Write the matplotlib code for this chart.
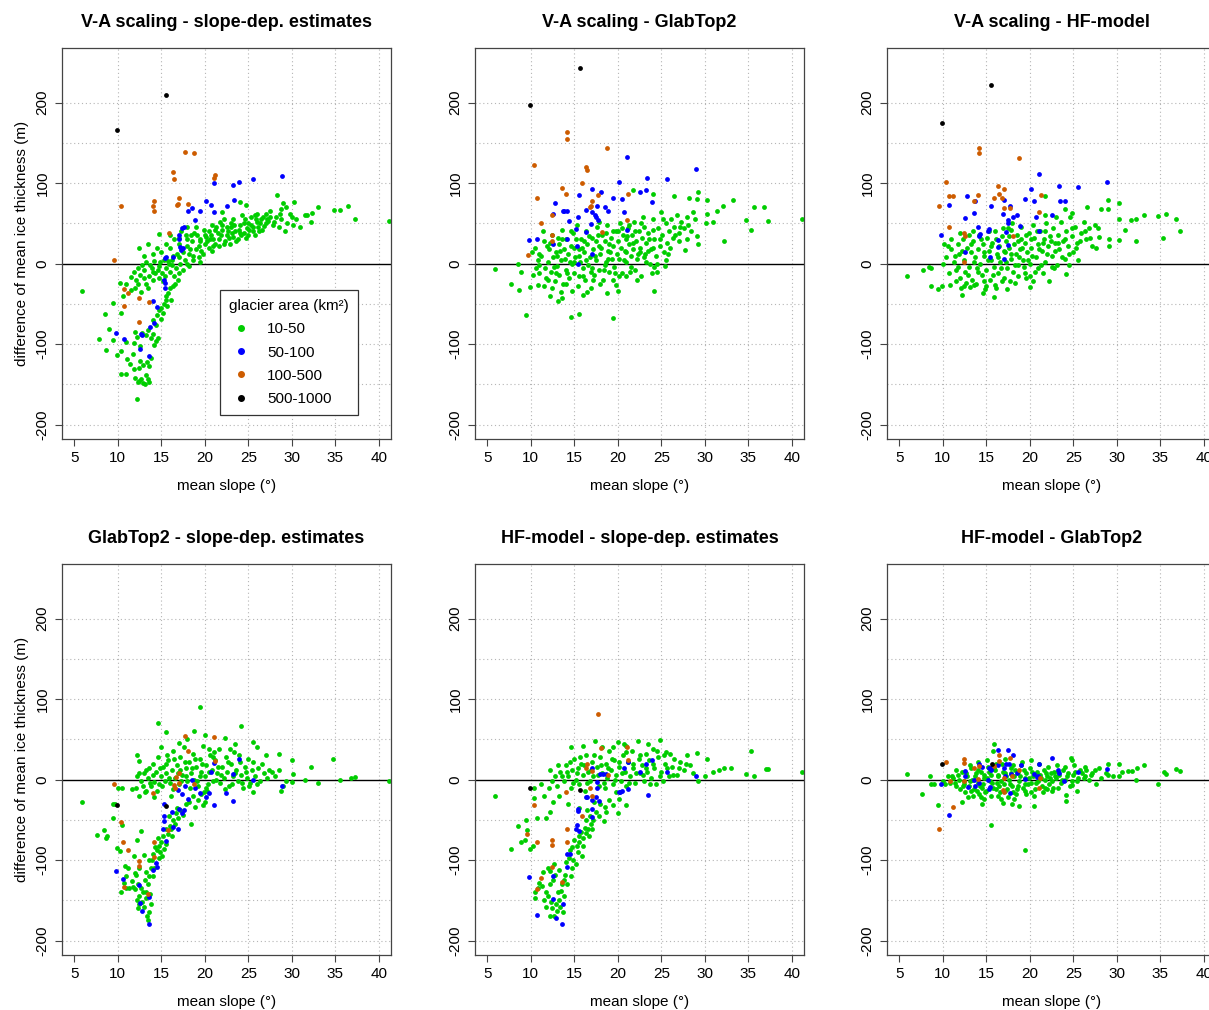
import numpy as np
import matplotlib
matplotlib.use('Agg')
import matplotlib.pyplot as plt
from matplotlib.lines import Line2D

plt.rcParams['font.family'] = ['Liberation Sans', 'DejaVu Sans']
plt.rcParams['axes.unicode_minus'] = False

# area classes and colours
classes = ['10-50', '50-100', '100-500', '500-1000']
class_colors = ['#00CD00', '#0000FF', '#CD5C00', '#000000']

titles = ['V-A scaling - slope-dep. estimates', 'V-A scaling - GlabTop2', 'V-A scaling - HF-model',
          'GlabTop2 - slope-dep. estimates', 'HF-model - slope-dep. estimates', 'HF-model - GlabTop2']

# ---- panel 1: V-A scaling - slope-dep. estimates  (mean slope, difference)
p1_green = [
    (5.9, -34), (7.8, -94), (8.5, -63), (8.6, -107), (9.0, -81), (9.5, -49), (9.5, -95), (9.9, -113), (10.3, -24),
    (10.4, -61), (10.4, -108), (10.4, -137), (10.6, -40), (10.9, -97), (11.0, -137),
    (11.1, -118), (11.4, -125), (11.7, -112), (11.9, -131), (12.0, -142), (12.2, -168), (12.3, -147), (12.5, -146),
    (12.7, -143), (12.9, -148), (13.1, -150), (13.3, -138), (13.5, -143), (13.6, -147), (12.6, -121), (12.4, -130),
    (12.9, -126), (13.4, -122), (13.6, -127), (13.8, -117), (12.0, -85), (12.2, -91), (11.9, -99), (12.6, -102),
    (12.8, -86), (13.3, -89), (13.5, -82), (13.8, -93), (14.0, -88), (14.2, -101), (14.4, -96), (14.6, -92),
    (14.1, -70), (14.4, -76), (14.5, -64), (14.8, -58), (15.0, -55), (15.0, -69), (15.2, -62), (15.3, -50),
    (15.5, -45), (15.6, -40), (15.8, -36), (16.0, -30), (16.1, -45), (16.3, -28), (15.7, -53),
    (11.0, -25), (11.5, -17), (11.9, -10), (12.1, -20), (12.3, -5), (12.6, -14), (12.8, -2), (13.0, -8), (13.2, -25),
    (13.6, -15), (13.9, -5), (13.3, 2), (13.7, -2), (14.2, 3), (14.6, -8), (14.9, 2), (15.3, 5), (12.0, -30),
    (12.7, -35), (13.5, -30), (14.1, -20), (14.7, -18), (15.1, -12), (15.6, -5), (16.0, -10), (16.5, -15),
    (16.9, -20), (17.5, -8), (17.2, 0), (18.2, -3), (18.7, 5), (19.3, 8), (16.6, -25),
    (13.0, 10), (14.0, 12), (14.5, 20), (15.0, 15), (15.5, 25), (16.0, 20), (16.5, 30), (17.0, 25), (17.5, 15),
    (18.0, 22), (18.5, 28), (19.0, 18), (19.5, 30), (20.0, 25), (16.4, 10), (17.8, 35), (18.2, 12), (19.8, 12),
    (20.5, 20), (13.5, 25), (12.5, 20), (14.7, 37), (15.8, 3), (16.8, 12), (17.3, 40), (18.8, 38), (19.3, 22),
    (20.2, 33), (20.0, 35), (20.5, 40), (21.0, 30), (21.5, 38), (22.0, 42), (22.5, 35), (23.0, 45), (23.5, 40),
    (24.0, 48), (24.5, 38), (25.0, 50), (25.5, 45), (26.0, 52), (26.5, 55), (27.0, 50), (27.5, 58), (21.2, 25),
    (22.3, 28), (23.8, 30), (24.7, 32), (25.8, 36), (20.8, 48), (21.8, 52), (23.2, 55), (24.3, 60), (25.3, 58),
    (26.2, 40), (21.3, 45), (22.7, 40), (24.0, 38), (23.3, 33), (25.1, 42), (26.8, 47), (27.3, 53), (28.5, 45),
    (29.2, 40), (28.0, 52), (30.0, 58), (30.1, 48), (31.5, 60), (32.3, 63), (33.0, 70), (34.8, 67), (35.5, 67),
    (36.5, 72), (37.3, 55), (32.2, 52), (29.0, 75), (28.3, 85), (28.8, 68), (29.3, 70), (27.0, 62), (31.0, 45),
    (19.0, 45), (18.0, 45), (22.2, 55), (25.8, 60), (26.7, 58), (41.2, 53), (24.0, 76), (24.7, 73), (22.0, 64),
    (30.2, 76), (31.8, 60), (29.8, 62),
    (14.3, -12), (14.8, -3), (15.2, -22), (15.9, 0), (16.2, 5), (16.7, -6), (17.0, 8), (17.4, 18), (17.7, 4),
    (18.0, 30), (18.3, 18), (18.6, 10), (19.1, 35), (19.6, 16), (19.9, 42), (20.3, 28), (20.7, 36), (21.0, 22),
    (21.2, 42), (21.6, 30), (21.9, 36), (22.2, 25), (22.5, 45), (22.8, 32), (23.1, 38), (23.4, 48), (23.6, 28),
    (23.9, 42), (24.2, 35), (24.5, 50), (24.8, 44), (25.0, 36), (25.3, 48), (25.6, 40), (25.9, 55), (26.1, 46),
    (26.4, 50), (26.6, 42), (27.1, 56), (27.8, 48), (28.2, 58), (28.8, 55), (29.5, 50), (30.5, 55), (20.8, 16),
    (21.6, 22), (22.9, 25), (19.5, 2), (18.0, 0), (17.0, -12), (16.2, -2), (15.4, -15), (14.0, -10), (13.0, -18),
    (12.3, -25), (11.5, -33), (16.0, 35), (17.0, 32), (18.4, 36), (19.4, 28), (20.6, 30), (22.0, 48), (23.0, 50),
    (24.6, 55), (26.0, 62), (27.5, 65), (28.6, 62),
]
p1_blue = [
    (28.9, 109), (25.6, 105), (23.9, 102), (23.3, 98), (21.1, 100), (20.2, 78), (20.7, 73), (21.1, 64), (22.5, 72),
    (23.4, 79), (18.5, 69), (18.1, 65), (19.5, 65), (18.9, 54), (17.6, 46), (17.4, 44), (17.0, 36), (17.0, 30),
    (17.1, 21), (17.5, 20), (17.3, 17), (15.5, 8), (15.4, 7), (16.4, 8), (15.3, -20), (15.4, -24), (15.4, -30),
    (14.5, -54), (14.1, -47), (14.2, -74), (13.7, -79), (12.7, -87), (12.8, -89), (9.8, -86), (10.7, -94),
    (12.6, -106), (13.6, -115),
]
p1_orange = [
    (17.7, 139), (18.8, 137), (16.4, 114), (16.5, 105), (21.2, 110), (21.1, 107), (10.4, 71), (14.2, 78), (14.1, 71),
    (14.2, 66), (17.0, 81), (16.8, 73), (16.9, 74), (18.1, 74), (15.9, 38), (9.6, 5), (10.7, -32), (11.2, -37),
    (10.7, -53), (12.4, -43), (13.6, -48), (12.5, -73),
]
p1_black = [(9.9, 166), (15.6, 210)]

# ---- panel 2: V-A scaling - GlabTop2
p2_green = [
    (5.9, -7), (7.7, -25), (8.5, 0), (8.7, -33), (8.9, -10), (9.5, -64), (9.9, -29), (10.3, -14), (10.8, -27),
    (12.2, -40), (13.1, -46), (13.6, -43), (14.6, -66), (15.6, -63), (16.0, -39), (18.8, -36), (19.4, -67),
    (20.0, -34), (22.2, -20), (22.7, -15), (24.2, -34), (24.2, -4), (25.4, -3),
    (10.2, 15), (10.5, 20), (10.8, 4), (11.0, -12), (11.2, 10), (11.5, 28), (11.6, -5), (11.8, -18), (12.0, 2),
    (12.1, 18), (12.3, -10), (12.4, 35), (12.6, 8), (12.8, -22), (12.9, 14), (13.0, -3), (13.2, 25), (13.3, -14),
    (13.5, 5), (13.6, 42), (13.7, -25), (13.8, 18), (14.0, -8), (14.1, 30), (14.3, 12), (14.4, -18), (14.6, 22),
    (14.7, 0), (14.9, 38), (15.0, -12), (15.1, 8), (15.3, 48), (15.4, -28), (15.5, 18), (15.7, 2), (15.8, 30),
    (16.0, -6), (16.1, 14), (16.2, -20), (16.4, 40), (16.5, 24), (16.6, -2), (16.8, 8), (16.9, -30), (17.0, 32),
    (17.2, 18), (17.3, -14), (17.5, 4), (17.6, 45), (17.8, 22), (17.9, -8), (18.0, 12), (18.2, 36), (18.3, -20),
    (18.5, 28), (18.6, 2), (18.8, 48), (18.9, 16), (19.0, -10), (19.2, 32), (19.3, 6), (19.5, 22), (19.6, -4),
    (19.8, 40), (19.9, 12), (20.0, 28), (20.2, -15), (20.3, 50), (20.4, 20), (20.6, 36), (20.7, 4), (20.9, 30),
    (21.0, 14), (21.2, 44), (21.3, 24), (21.5, -4), (21.6, 36), (21.8, 18), (21.9, 52), (22.1, 28), (22.2, 6),
    (22.4, 40), (22.6, 20), (22.8, 32), (23.0, 46), (23.1, 12), (23.3, 26), (23.5, 38), (23.7, 0), (23.8, 18),
    (24.0, 55), (24.2, 30), (24.4, 10), (24.6, 44), (24.8, 22), (25.0, 64), (25.1, 36), (25.3, 14), (25.5, 50),
    (25.7, 26), (25.9, 40), (26.1, 56), (26.3, 32), (26.5, 46), (26.8, 60), (27.0, 38), (27.3, 52), (27.6, 44),
    (28.0, 58), (28.4, 40), (28.7, 64), (29.1, 80), (29.1, 34), (29.2, 25), (29.2, 89), (28.2, 82), (26.5, 84),
    (24.0, 86), (21.7, 91), (27.7, 17), (30.1, 50), (30.2, 62), (30.2, 79), (30.9, 52), (31.4, 65), (32.1, 72),
    (32.2, 28), (33.2, 79), (34.7, 54), (35.3, 42), (35.6, 70), (36.8, 70), (37.3, 53), (41.2, 55),
    (11.0, -2), (12.0, -20), (13.0, 10), (14.0, -25), (15.0, 20), (16.0, -15), (17.0, -5), (18.0, -25), (19.0, 24),
    (20.0, 40), (21.0, 2), (22.0, -8), (23.0, 8), (24.0, 20), (15.5, 10), (14.5, 2), (13.5, -35), (12.5, -30),
    (11.5, -28), (16.5, -35), (17.5, 28), (18.5, -2), (19.5, -20), (20.5, -12), (21.5, 10), (22.5, 14), (23.5, 16),
    (24.5, 0), (25.5, 4), (26.0, 20), (27.0, 28), (28.0, 30),
    (12.2, 26), (12.7, -4), (13.1, 32), (13.4, 16), (13.9, 6), (14.2, -12), (14.6, 40), (15.0, 2), (15.2, 30),
    (15.6, -16), (15.9, 20), (16.3, 4), (16.7, 34), (17.1, -20), (17.4, 10), (17.7, 36), (18.1, 20), (18.4, -8),
    (18.7, 38), (19.1, 14), (19.4, 40), (19.7, -12), (20.1, 6), (20.5, 44), (20.8, 16), (21.1, 34), (21.4, -10),
    (21.7, 26), (22.0, 40), (22.3, 12), (22.7, 50), (23.2, 2), (23.6, 30), (24.1, 42), (24.5, -10), (24.9, 30),
    (25.2, 56), (25.8, 12), (26.6, 36), (27.2, 46), (28.1, 48), (28.9, 56), (11.4, 40), (10.6, -6), (12.9, -12),
    (14.8, -34), (16.1, 28), (17.9, 52), (19.8, -26), (21.3, 48), (22.9, 58), (23.9, -12), (10.9, 12), (11.9, 22),
    (13.6, 30), (16.9, -10), (18.9, 6), (20.9, -16),
]
p2_blue = [
    (21.1, 132), (29.0, 117), (23.4, 106), (25.7, 105), (20.2, 101), (17.0, 93), (18.1, 89), (15.6, 85), (19.5, 82),
    (20.5, 80), (22.5, 89), (23.3, 91), (23.9, 77), (12.8, 75), (12.6, 62), (13.7, 65), (14.2, 65), (13.8, 66),
    (16.4, 67), (17.0, 64), (17.6, 71), (18.5, 70), (18.9, 65), (17.4, 60), (17.5, 58), (15.4, 58), (20.7, 64),
    (14.4, 53), (16.9, 49), (17.7, 54), (15.2, 43), (16.3, 39), (21.1, 42), (9.8, 29), (10.7, 30), (12.6, 25),
    (14.2, 31), (15.3, 22), (17.0, 12), (15.4, 0),
]
p2_orange = [
    (14.2, 163), (14.2, 155), (18.8, 144), (10.4, 123), (16.4, 120), (16.5, 116), (15.9, 100), (13.6, 94), (14.1, 87),
    (10.7, 82), (17.7, 85), (17.0, 78), (16.9, 72), (16.8, 70), (12.4, 61), (11.2, 51), (21.2, 87), (21.1, 54),
    (12.5, 35), (12.5, 28), (18.2, 39), (9.65, 11),
]
p2_black = [(15.65, 243), (9.9, 197)]

# ---- panel 3: V-A scaling - HF-model
p3_green = [
    (5.9, -15), (7.7, -8), (8.4, -4), (8.7, -5), (8.6, -28), (9.5, -32), (9.9, -28), (10.8, -27), (12.2, -39),
    (14.6, -37), (15.9, -41), (16.1, -30), (17.4, -32), (18.3, -24), (20.0, -29), (20.0, -15), (22.2, -22),
    (24.2, -13), (13.1, -29), (13.6, -27), (12.1, -30),
    (10.0, 0), (10.4, 8), (10.7, -12), (11.0, 18), (11.3, 2), (11.5, -8), (11.7, 25), (11.9, 12), (12.0, -18),
    (12.3, 30), (12.5, 5), (12.6, -10), (12.8, 20), (13.0, -4), (13.2, 14), (13.4, -20), (13.5, 28), (13.7, 8),
    (13.9, -6), (14.0, 18), (14.2, 36), (14.3, 0), (14.5, -14), (14.6, 24), (14.8, 10), (15.0, -8), (15.1, 32),
    (15.3, 16), (15.4, -20), (15.6, 4), (15.7, 26), (15.9, -4), (16.0, 40), (16.2, 12), (16.3, -12), (16.5, 22),
    (16.6, 2), (16.8, 34), (17.0, -18), (17.1, 14), (17.3, 28), (17.4, -6), (17.6, 20), (17.8, 6), (17.9, 42),
    (18.1, -10), (18.2, 24), (18.4, 12), (18.5, 36), (18.7, -2), (18.9, 18), (19.0, 30), (19.2, 4), (19.4, -12),
    (19.5, 26), (19.7, 14), (19.9, 38), (20.0, 0), (20.2, 20), (20.4, 48), (20.5, 32), (20.7, 8), (20.9, 24),
    (21.0, -6), (21.2, 40), (21.4, 16), (21.6, 30), (21.8, 2), (21.9, 50), (22.1, 22), (22.3, 34), (22.5, 10),
    (22.7, 44), (22.9, 26), (23.1, -2), (23.2, 36), (23.4, 18), (23.6, 52), (23.8, 28), (24.0, 6), (24.2, 40),
    (24.4, 22), (24.6, 58), (24.8, 34), (25.0, 14), (25.2, 46), (25.4, 26), (25.6, 4), (25.9, 38), (26.2, 52),
    (26.5, 30), (26.8, 44), (27.1, 22), (27.5, 48), (26.6, 70), (24.0, 68), (24.8, 63), (21.7, 84), (21.8, 61),
    (23.0, 58), (28.2, 68), (28.0, 33), (27.6, 20), (29.0, 79), (29.0, 68), (29.05, 30), (29.05, 22), (30.2, 75),
    (30.2, 55), (30.2, 29), (30.9, 42), (31.6, 54), (32.2, 56), (32.2, 28), (33.1, 60), (34.7, 59), (35.3, 32),
    (35.6, 62), (36.8, 56), (37.3, 41),
    (11.5, -22), (12.7, -24), (13.8, -25), (14.8, -22), (16.8, -22), (18.6, -16), (19.6, -18), (21.5, -12),
    (22.8, -5), (24.5, -2), (13.0, 35), (15.3, 40), (17.5, 44), (19.0, 46), (12.0, 38), (11.0, 30), (10.2, 25),
    (16.0, -26), (15.0, -28),
    (11.4, 10), (11.8, -4), (12.2, 16), (12.9, -14), (13.3, 24), (13.6, 2), (14.1, -10), (14.4, 30), (14.7, 14),
    (15.2, 4), (15.5, 22), (15.8, -14), (16.1, 30), (16.4, 8), (16.7, -6), (17.0, 16), (17.3, 2), (17.6, 34),
    (17.9, 12), (18.3, -2), (18.6, 28), (18.8, 8), (19.1, 20), (19.3, -4), (19.6, 36), (19.8, 4), (20.1, 30),
    (20.3, 10), (20.6, -10), (20.8, 40), (21.1, 18), (21.3, -2), (21.5, 26), (21.7, 40), (22.0, 12), (22.4, 28),
    (22.6, -4), (22.9, 16), (23.3, 26), (23.7, 8), (24.1, 30), (24.5, 12), (24.9, 44), (25.3, 20), (25.8, 28),
    (26.3, 40), (26.9, 32), (27.8, 44), (10.6, 22), (12.4, -28), (14.9, -32), (17.7, -22), (20.4, -22), (16.9, 44),
    (18.0, 50), (13.5, 40),
]
p3_blue = [
    (21.1, 112), (28.9, 102), (25.6, 95), (23.4, 97), (20.2, 93), (19.5, 80), (20.5, 78), (23.5, 78), (24.0, 78),
    (22.5, 61), (20.7, 58), (17.7, 71), (17.0, 79), (12.8, 84), (13.7, 78), (10.7, 73), (13.6, 63), (12.6, 57),
    (15.6, 72), (16.95, 62), (18.5, 61), (18.1, 58), (17.5, 54), (17.5, 50), (9.8, 35), (14.1, 45), (14.3, 37),
    (14.2, 34), (15.3, 43), (15.2, 41), (16.4, 29), (17.3, 39), (17.45, 23), (16.3, 21), (18.9, 47), (21.1, 41),
    (12.6, 14), (15.4, 8), (17.0, 6),
]
p3_orange = [
    (14.2, 144), (14.2, 137), (18.8, 131), (10.4, 101), (16.4, 97), (17.0, 93), (16.5, 86), (10.7, 84), (11.2, 84),
    (14.1, 85), (15.9, 82), (16.8, 81), (13.6, 78), (17.0, 69), (21.3, 85), (21.1, 64), (9.6, 72), (10.7, 45),
    (12.5, 38), (12.6, 34), (17.7, 69), (18.1, 34), (12.5, 2),
]
p3_black = [(15.6, 222), (9.9, 175)]

# ---- panel 4: GlabTop2 - slope-dep. estimates
p4_green = [
    (5.85, -28), (7.65, -69), (8.45, -63), (8.6, -72), (8.8, -70), (9.5, -48), (9.5, -30), (9.7, -30), (9.9, -85),
    (10.3, -89), (10.5, -57), (10.5, -10), (10.0, -10), (10.8, -107), (10.4, -140), (10.7, -128), (11.0, -135),
    (11.3, -135), (11.6, -126), (11.8, -133), (12.0, -136), (12.3, -130), (12.1, -118), (12.2, -150), (12.5, -155),
    (12.3, -160), (12.8, -152), (13.0, -158), (13.3, -147), (13.4, -170), (13.6, -165), (13.5, -175), (12.9, -140),
    (13.2, -140), (13.5, -130), (13.7, -142), (13.6, -120), (13.2, -115), (12.5, -110), (12.0, -116), (11.9, -95),
    (12.2, -75), (12.7, -64), (13.0, -94), (13.6, -100), (13.8, -110), (14.0, -92), (14.3, -84), (14.5, -88),
    (14.7, -82), (14.8, -98), (15.0, -78), (15.3, -86), (14.9, -90), (14.6, -73), (15.2, -70), (15.5, -62),
    (15.8, -68), (16.0, -58), (16.3, -50), (16.6, -55), (16.9, -48), (16.2, -70), (15.9, -45), (17.2, -38),
    (17.5, -44), (17.8, -30), (18.2, -28), (18.6, -20), (18.9, -34), (19.2, -25), (19.6, -18), (20.0, -28),
    (20.3, -14), (18.4, -55), (19.8, -31), (16.8, -35),
    (11.6, -12), (12.1, -10), (12.2, 5), (12.4, -20), (12.4, 23), (12.7, -2), (13.0, 8), (13.2, -14), (13.5, 2),
    (13.6, 15), (13.8, -8), (14.0, 20), (14.2, -3), (14.4, 10), (14.6, 28), (14.8, -6), (15.0, 4), (15.2, 16),
    (15.4, -2), (15.6, 8), (15.8, 24), (16.0, -4), (16.2, 12), (16.4, 36), (16.6, 2), (16.8, 18), (17.0, -6),
    (17.2, 28), (17.4, 6), (17.6, 40), (17.8, 14), (18.0, -2), (18.2, 22), (18.4, 8), (18.6, 32), (18.8, 0),
    (19.0, 16), (19.2, -8), (19.4, 26), (19.6, 10), (19.8, 42), (20.0, 4), (20.2, 18), (20.4, -6), (20.6, 30),
    (20.8, 12), (21.0, -2), (21.2, 24), (21.4, 8), (21.6, 38), (21.8, -4), (22.0, 16), (22.2, 2), (22.4, 28),
    (22.6, 10), (22.8, -8), (23.0, 20), (23.2, 4), (23.4, 34), (23.6, 12), (23.8, -2), (24.0, 22), (24.2, 6),
    (24.4, -10), (24.6, 16), (24.8, 2), (25.0, 26), (25.2, -4), (25.4, 12), (25.6, -16), (25.8, 4), (26.1, 14),
    (26.4, -2), (26.8, 8), (27.2, 2), (27.7, 10), (28.1, 4), (28.5, 12), (29.0, -8), (28.8, -14), (29.3, -2),
    (30.0, -3), (30.1, 7), (31.5, -1), (32.2, 16), (33.0, -4), (34.7, 26), (35.5, 0), (36.8, 2), (37.3, 3),
    (41.2, -2),
    (14.6, 70), (15.6, 59), (18.75, 61), (19.4, 90), (20.0, 55), (22.3, 52), (24.2, 67), (25.5, 47), (12.2, 30),
    (15.0, 40), (17.0, 45), (18.0, 50), (20.5, 38), (23.5, 44), (26.0, 40), (27.0, 30), (28.5, 32), (30.0, 25),
    (12.5, 8), (12.9, -8), (13.3, 12), (13.7, -4), (14.1, 6), (14.5, -14), (14.9, 14), (15.1, -8), (15.5, 20),
    (15.9, 2), (16.3, -12), (16.5, 26), (16.9, 8), (17.3, -2), (17.7, 22), (17.9, 4), (18.3, -10), (18.5, 14),
    (18.9, 26), (19.1, -2), (19.5, 4), (19.7, 20), (20.1, -10), (20.5, 10), (20.9, 28), (21.3, 0), (21.5, 16),
    (21.9, 6), (22.3, -12), (22.7, 22), (23.1, -6), (23.5, 8), (23.9, 30), (24.3, -4), (24.7, 10), (25.1, -8),
    (25.5, 22), (26.0, -6), (26.6, 20), (27.4, 12), (14.2, -22), (16.1, -20), (17.1, 12), (19.9, -16), (21.1, 34),
    (22.9, 38), (13.1, -16), (15.7, 30),
    (14.0, -120), (13.9, -100), (14.2, -110), (13.1, -125), (12.7, -135), (12.4, -145), (13.8, -155), (15.1, -95),
    (15.6, -80), (16.1, -62), (16.7, -42), (11.2, -110), (10.9, -120),
]
p4_blue = [
    (21.05, 21), (23.9, 26), (20.7, 9), (23.2, 7), (25.5, 0), (18.5, -1), (18.9, -11), (17.7, -8), (17.4, -18),
    (16.9, -13), (18.1, -24), (19.4, -17), (20.2, -22), (20.5, -17), (22.4, -17), (21.05, -31), (23.3, -27),
    (28.85, -8), (15.3, -30), (15.35, -45), (15.3, -51), (16.25, -40), (17.0, -37), (17.4, -42), (17.6, -38),
    (16.4, -59), (16.95, -61), (15.15, -62), (15.55, -76), (14.4, -104), (14.5, -108), (14.1, -112), (9.8, -114),
    (10.65, -124), (12.5, -131), (12.6, -153), (12.8, -163), (13.65, -146), (13.6, -179),
]
p4_orange = [
    (17.7, 54), (21.05, 53), (18.1, 35), (21.2, 23), (17.0, 8), (16.75, 3), (16.5, -7), (16.6, -10), (14.1, -17),
    (17.0, -4), (18.75, -6), (9.55, -6), (10.35, -53), (10.65, -78), (11.15, -88), (12.4, -101), (12.4, -107),
    (14.2, -96), (14.2, -78), (15.8, -63), (10.7, -134), (13.5, -142),
]
p4_black = [(9.9, -31), (15.55, -33)]

# ---- panel 5: HF-model - slope-dep. estimates
p5_green = [
    (5.9, -20), (7.7, -86), (8.5, -58), (8.9, -77), (9.3, -75), (9.5, -50), (9.6, -63), (9.9, -86), (10.3, -83),
    (10.4, -23), (10.7, -48), (10.4, -10), (11.2, -5), (11.8, -48), (12.2, -40), (12.6, -28), (11.5, -20),
    (12.0, -110), (12.2, -113), (10.5, -140), (10.5, -147), (11.0, -128), (11.3, -132), (11.7, -140), (11.5, -150),
    (12.0, -145), (12.3, -152), (12.5, -160), (12.2, -170), (12.7, -170), (13.0, -163), (13.4, -158), (13.7, -165),
    (13.8, -145), (13.1, -140), (13.5, -138), (13.8, -125), (13.6, -130), (12.6, -125), (12.2, -130), (12.8, -118),
    (13.3, -112), (13.9, -118), (14.1, -102), (14.4, -97), (14.5, -88), (14.8, -84), (15.0, -75), (15.3, -82),
    (15.5, -70), (15.8, -65), (16.2, -60), (16.4, -50), (16.9, -55), (15.4, -90), (14.9, -100), (15.9, -95),
    (14.7, -110), (16.3, -66), (16.6, -62), (17.5, -40), (18.0, -30), (18.5, -34), (18.4, -52), (19.0, -25),
    (19.8, -15), (20.2, -24), (20.0, -42), (21.0, -32), (16.0, -83), (17.0, -62), (16.8, -45), (17.3, -28),
    (15.6, -35), (14.3, -30), (13.2, -20), (12.1, -10),
    (12.2, 12), (12.8, 5), (13.0, -8), (13.4, 10), (13.8, -2), (14.0, 18), (14.3, 4), (14.6, -10), (14.8, 12),
    (15.0, 26), (15.2, 0), (15.4, 14), (15.6, -6), (15.8, 20), (16.0, 6), (16.2, -14), (16.4, 30), (16.6, 10),
    (16.8, -2), (17.0, 22), (17.2, 4), (17.4, 48), (17.6, 16), (17.8, -8), (18.0, 28), (18.2, 8), (18.4, -4),
    (18.6, 20), (18.8, 2), (19.0, 36), (19.2, 12), (19.4, -6), (19.6, 24), (19.8, 6), (20.0, 47), (20.2, 16),
    (20.4, -2), (20.6, 30), (20.8, 10), (21.0, -8), (21.2, 22), (21.4, 4), (21.6, 36), (21.8, 14), (22.0, -4),
    (22.3, 48), (22.4, 26), (22.6, 8), (22.8, 18), (23.0, -2), (23.2, 32), (23.4, 10), (23.6, 24), (23.8, 2),
    (24.0, 38), (24.2, 14), (24.4, -6), (24.6, 28), (24.9, 49), (25.0, 10), (25.2, -2), (25.4, 20), (25.6, 34),
    (25.9, 4), (26.2, 16), (26.5, 26), (26.8, 6), (27.2, 22), (27.6, 12), (28.0, 30), (28.3, 18), (28.7, 8),
    (29.1, 33), (29.2, -2), (30.2, 26), (30.0, 4), (31.0, 10), (31.6, 12), (32.2, 15), (33.0, 14), (34.7, 7),
    (35.35, 36), (35.6, 5), (37.0, 13), (37.3, 13), (41.2, 9), (14.6, 40), (16.0, 42), (18.2, 40), (21.0, 42),
    (23.5, 44), (26.0, 32),
    (14.2, 10), (14.5, 22), (14.9, -4), (15.3, 8), (15.7, 28), (16.1, 18), (16.5, -4), (16.9, 12), (17.3, 30),
    (17.7, 6), (18.1, 18), (18.5, -10), (18.9, 14), (19.3, 26), (19.7, 0), (20.1, 22), (20.5, 8), (20.9, 34),
    (21.3, -4), (21.7, 20), (22.1, 8), (22.5, 30), (22.9, 6), (23.3, 14), (23.7, -6), (24.1, 20), (24.5, 36),
    (24.8, 4), (25.3, 30), (25.7, 14), (26.4, 6), (27.0, 14), (27.8, 20), (13.6, 4), (13.1, 18), (12.5, -2),
    (19.5, 40), (20.7, 44),
    (14.6, -120), (14.2, -130), (13.3, -150), (12.9, -155), (11.8, -158), (15.2, -105), (15.6, -78), (16.0, -72),
    (16.7, -70), (17.2, -50), (17.9, -45), (18.7, -40), (19.4, -32), (16.5, -38), (12.7, -105), (11.4, -115),
    (10.8, -135),
]
p5_blue = [
    (23.9, 24), (23.3, 20), (21.15, 22), (20.7, 15), (22.5, 10), (25.65, 9), (28.95, 5), (17.0, 14), (18.0, 7),
    (18.3, 7), (18.7, 7), (17.6, -3), (17.6, -10), (17.5, -22), (17.8, -26), (16.3, -22), (16.5, -22), (17.0, -25),
    (20.2, -16), (20.3, -16), (20.5, -14), (21.15, -12), (23.5, -19), (17.0, -36), (17.0, -47), (15.4, -37),
    (15.45, -39), (15.3, -56), (15.2, -61), (15.6, -64), (14.2, -92), (14.5, -92), (14.15, -108), (12.6, -120),
    (9.8, -121), (12.6, -148), (13.7, -154), (10.7, -168), (12.85, -172), (13.6, -179),
]
p5_orange = [
    (17.7, 81), (18.1, 39), (21.1, 41), (21.2, 25), (16.5, 19), (16.4, 15), (17.0, 11), (18.85, 6), (14.1, -15),
    (16.85, -10), (17.0, -20), (15.9, -45), (10.4, -31), (9.6, -67), (10.7, -77), (12.5, -75), (12.45, -81),
    (14.2, -61), (14.2, -78), (12.5, -108), (11.2, -122), (13.65, -127), (10.7, -136),
]
p5_black = [(9.9, -10), (15.65, -13)]

# ---- panel 6: HF-model - GlabTop2
p6_green = [
    (5.9, 7.5), (7.65, -18), (8.5, 4), (8.7, -6), (9.0, -6), (9.5, -32), (10.6, 5), (11.1, 5), (12.2, -28),
    (15.6, -57), (14.5, -30), (16.95, -29), (18.0, -30), (18.8, -33), (19.4, -88), (20.45, -33), (19.6, -18),
    (24.2, -26), (24.15, -19), (25.4, -14), (24.9, -7), (15.9, 44), (15.8, 35), (24.7, 27), (24.8, 24), (26.4, 16),
    (27.6, -6), (29.0, 19), (30.2, 19), (30.2, 5), (31.3, 11), (31.7, 11), (32.3, 14), (32.2, -1), (33.1, 18),
    (34.7, -5), (35.4, 10), (35.6, 7), (36.8, 13), (37.3, 11), (27.5, 12), (28.0, 14), (28.8, 8), (29.6, 5),
    (26.2, 2), (26.8, -1),
    (10.0, -2), (10.3, -6), (10.8, -4), (11.2, 2), (11.5, -8), (11.8, 6), (12.0, -12), (12.2, 10), (12.4, -2),
    (12.6, -16), (12.8, 4), (13.0, -8), (13.2, 14), (13.4, 0), (13.6, -12), (13.8, 8), (14.0, -4), (14.2, -18),
    (14.4, 10), (14.6, -6), (14.8, 2), (15.0, -14), (15.2, 16), (15.4, -2), (15.6, 6), (15.8, -10), (16.0, 12),
    (16.2, -4), (16.4, 4), (16.6, -16), (16.8, 20), (17.0, -6), (17.2, 8), (17.4, -12), (17.6, 0), (17.8, 14),
    (18.0, -8), (18.2, 4), (18.4, -18), (18.6, 10), (18.8, -2), (19.0, 18), (19.2, -10), (19.4, 2), (19.6, 8),
    (19.8, -6), (20.0, 14), (20.2, -4), (20.4, 4), (20.6, -12), (20.8, 10), (21.0, -2), (21.2, 6), (21.4, -8),
    (21.6, 12), (21.8, 0), (22.0, 4), (22.2, -6), (22.4, 8), (22.6, -2), (22.8, 10), (23.0, 2), (23.2, -10),
    (23.4, 6), (23.6, -4), (23.8, 12), (24.0, 0), (24.4, 8), (24.8, -2), (25.2, 10), (25.6, 2), (26.0, 8),
    (26.5, 12), (27.0, 6),
    (12.5, -6), (13.5, -20), (14.5, -10), (15.5, -20), (16.5, -8), (17.5, -22), (18.5, -12), (19.5, -14),
    (20.5, -20), (21.5, -16), (22.5, -14), (13.1, 18), (14.1, 22), (15.1, 24), (16.1, 20), (17.1, 26), (18.1, 18),
    (19.1, 22), (20.1, 24), (21.1, 20), (22.1, 16), (23.1, 18), (24.1, 16), (25.1, 18), (11.5, 12), (12.9, -22),
    (14.8, -24), (16.7, -24),
    (11.4, -4), (11.9, 0), (12.3, -8), (12.7, 8), (13.1, -2), (13.3, -14), (13.7, 4), (14.1, 12), (14.3, -8),
    (14.7, 6), (14.9, -16), (15.1, 2), (15.3, 10), (15.7, -4), (15.9, 14), (16.1, -12), (16.3, 6), (16.7, -2),
    (16.9, 10), (17.1, -14), (17.3, 4), (17.7, -6), (17.9, 8), (18.1, -16), (18.3, 12), (18.7, -8), (18.9, 4),
    (19.3, 12), (19.5, -6), (19.9, 2), (20.3, 10), (20.7, -4), (20.9, 6), (21.3, 2), (21.7, -10), (21.9, 8),
    (22.3, 2), (22.7, -10), (22.9, 4), (23.3, 10), (23.7, 0), (24.3, 4), (24.6, -8), (25.0, 6), (25.4, -2),
    (25.8, 12), (26.3, 4), (27.2, 8), (28.2, 2), (29.0, 6), (30.6, 10), (14.4, -22), (16.4, -20), (18.2, -24),
    (20.2, -16), (22.0, -12), (13.9, -14),
]
p6_blue = [
    (16.4, 37), (17.5, 37), (18.1, 31), (22.5, 27), (21.1, 20), (14.2, 19), (14.5, 16), (16.3, 18), (15.5, 15),
    (17.3, 19), (17.6, 20), (18.95, 18), (17.0, 14), (12.6, 11), (12.6, 4), (15.3, 14), (15.5, 12), (17.2, 5),
    (17.8, 7), (18.5, 8), (20.5, 7), (20.9, 5), (20.8, 3), (23.3, 12), (23.4, 8), (25.6, 9), (28.9, 13), (19.5, 1),
    (15.2, 0), (13.6, 0), (9.8, -6), (12.85, -9), (13.7, -8), (14.2, -4), (15.4, -9), (15.3, -12), (17.7, -17),
    (23.9, -2), (10.7, -44),
]
p6_orange = [
    (10.4, 22), (12.45, 26), (12.4, 21), (16.45, 30), (17.7, 27), (16.5, 23), (13.65, 15), (14.15, 17), (15.95, 17),
    (18.0, 5), (18.8, 12), (17.0, 2), (10.8, -2), (12.45, -2), (14.1, 1), (16.9, -13), (17.0, -16), (21.1, -11),
    (21.2, 2), (11.2, -34), (9.55, -62),
]
p6_black = [(9.9, 20), (15.65, 20)]

panel_data = [
    (p1_green, p1_blue, p1_orange, p1_black),
    (p2_green, p2_blue, p2_orange, p2_black),
    (p3_green, p3_blue, p3_orange, p3_black),
    (p4_green, p4_blue, p4_orange, p4_black),
    (p5_green, p5_blue, p5_orange, p5_black),
    (p6_green, p6_blue, p6_orange, p6_black),
]

W, H = 1209, 1010
fig = plt.figure(figsize=(W / 100, H / 100), dpi=100)

lefts = [62, 475, 887]
tops = [48, 564]
aw, ah = 329, 391

for i, data in enumerate(panel_data):
    row, col = divmod(i, 3)
    ax = fig.add_axes([lefts[col] / W, (H - tops[row] - ah) / H, aw / W, ah / H])

    # dotted grid like R grid()
    for v in range(10, 45, 5):
        ax.axvline(v, color='#b5b5b5', lw=0.8, ls=(0, (1, 2.5)), zorder=0)
    for h in range(-200, 250, 50):
        if h != 0:
            ax.axhline(h, color='#b5b5b5', lw=0.8, ls=(0, (1, 2.5)), zorder=0)
    ax.axhline(0, color='black', lw=1.0, zorder=1)

    for pts, c in zip(data, class_colors):
        arr = np.array(pts)
        ax.scatter(arr[:, 0], arr[:, 1], s=12, c=c, linewidths=0, zorder=2)

    ax.set_xlim(3.6, 41.4)
    ax.set_ylim(-218, 268)
    ax.set_xticks(range(5, 45, 5))
    ax.set_yticks([-200, -100, 0, 100, 200])
    ax.tick_params(direction='out', length=5, width=0.8, color='#444444', labelsize=11, pad=4)
    ax.tick_params(axis='y', labelrotation=90)
    for lab in ax.get_yticklabels():
        lab.set_va('center')
    for sp in ax.spines.values():
        sp.set_color('#444444')
        sp.set_linewidth(0.9)

    ax.set_title(titles[i], fontsize=13, fontweight='bold', pad=15)
    ax.set_xlabel('mean slope (°)', fontsize=11, labelpad=10)
    if col == 0:
        ax.set_ylabel('difference of mean ice thickness (m)', fontsize=11, labelpad=5)

    if i == 0:
        handles = [Line2D([], [], ls='none', marker='o', ms=4, mfc=c, mec=c) for c in class_colors]
        leg = ax.legend(handles, classes, title='glacier area (km²)', loc='upper left',
                        bbox_to_anchor=(0.480, 0.381), borderaxespad=0, fontsize=11, title_fontsize=11,
                        frameon=True, fancybox=False, edgecolor='#333333', framealpha=1,
                        handlelength=1.6, handletextpad=0.9, labelspacing=0.6, borderpad=0.6,
                        alignment='left')
        leg.get_frame().set_linewidth(0.9)

fig.savefig('out.png', dpi=100)
